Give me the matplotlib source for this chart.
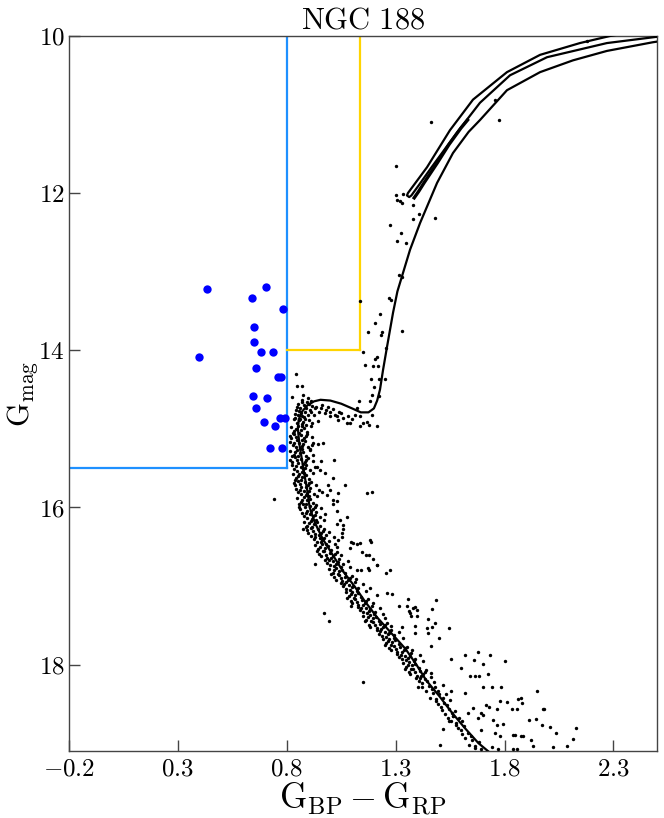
import matplotlib
matplotlib.use('Agg')
import matplotlib.pyplot as plt

plt.rcParams['mathtext.fontset'] = 'cm'
plt.rcParams['font.family'] = ['DejaVu Serif']

# ---------------- data ----------------
title = r'$\mathrm{NGC\ 188}$'
xlabel = r'$\mathrm{G_{BP}-G_{RP}}$'
ylabel = r'$\mathrm{G_{mag}}$'
xticks = [-0.2, 0.3, 0.8, 1.3, 1.8, 2.3]
xtick_labels = ['-0.2', '0.3', '0.8', '1.3', '1.8', '2.3']
yticks = [10, 12, 14, 16, 18]
ytick_labels = ['10', '12', '14', '16', '18']
xlim = (-0.2, 2.5)
ylim = (19.1, 10.0)

# selection boxes
bss_color_max = 0.8
bss_mag_max = 15.5
ybss_color_max = 1.135
ybss_mag_max = 14.0

# blue stragglers
bss_x = [0.432, 0.704, 0.639, 0.784, 0.649, 0.649, 0.682, 0.737, 0.395, 0.657, 0.761,
         0.773, 0.646, 0.709, 0.657, 0.767, 0.792, 0.697, 0.747, 0.724, 0.779]
bss_y = [13.22, 13.20, 13.34, 13.47, 13.71, 13.90, 14.02, 14.02, 14.08, 14.22, 14.34,
         14.34, 14.58, 14.61, 14.73, 14.86, 14.86, 14.91, 14.97, 15.25, 15.25]

# isochrone: MS -> turnoff -> subgiant -> RGB
iso_x = [1.745, 1.68, 1.615, 1.555, 1.50, 1.44, 1.395, 1.345, 1.28, 1.215, 1.16, 1.11,
         1.055, 1.01, 0.965, 0.93, 0.905, 0.895, 0.882, 0.87, 0.858, 0.851, 0.855, 0.87,
         0.895, 0.925, 0.955, 1.00, 1.05, 1.10, 1.14, 1.175, 1.20, 1.215, 1.228, 1.242,
         1.26, 1.288, 1.308, 1.366, 1.412, 1.49, 1.563, 1.635, 1.687, 1.811, 1.963, 2.114,
         2.27, 2.48, 2.6]
iso_y = [19.15, 19.0, 18.8, 18.6, 18.4, 18.2, 18.0, 17.8, 17.6, 17.4, 17.2, 17.0,
         16.8, 16.6, 16.4, 16.2, 16.0, 15.8, 15.6, 15.4, 15.2, 15.0, 14.88, 14.78,
         14.70, 14.65, 14.63, 14.64, 14.68, 14.74, 14.79, 14.79, 14.74, 14.64, 14.50, 14.25,
         13.96, 13.52, 13.25, 12.72, 12.38, 11.87, 11.49, 11.22, 11.07, 10.69, 10.46, 10.31,
         10.19, 10.08, 10.03]

# clump / AGB loop
agb_x = [2.45, 2.284, 2.146, 1.963, 1.811, 1.655, 1.549, 1.444, 1.356, 1.352, 1.362,
         1.372, 1.406, 1.465, 1.581, 1.687, 1.825, 1.995, 2.27, 2.50, 2.6]
agb_y = [9.92, 10.0, 10.09, 10.24, 10.46, 10.81, 11.20, 11.67, 12.00, 12.03, 12.05,
         12.03, 11.90, 11.67, 11.23, 10.85, 10.50, 10.27, 10.09, 10.01, 9.98]
eagb_x = [1.385, 1.405, 1.43, 1.49, 1.545, 1.60, 1.63]
eagb_y = [12.06, 11.98, 11.87, 11.62, 11.38, 11.17, 11.07]

# cluster members: dense turnoff and main sequence
ms_pts = [
 (0.874,14.57),(0.897,14.61),(0.912,14.64),(0.868,14.63),(0.853,14.69),(0.871,14.66),(0.889,14.73),(0.902,14.68),
 (0.917,14.71),(0.862,14.74),(0.881,14.70),(0.928,14.74),(0.846,14.72),(0.895,14.66),(0.838,14.81),(0.856,14.77),
 (0.872,14.84),(0.884,14.79),(0.899,14.83),(0.913,14.78),(0.841,14.76),(0.866,14.80),(0.927,14.82),(0.879,14.85),
 (0.906,14.76),(0.851,14.83),(0.832,14.88),(0.847,14.93),(0.861,14.87),(0.875,14.91),(0.889,14.95),(0.903,14.89),
 (0.918,14.92),(0.839,14.86),(0.868,14.94),(0.884,14.87),(0.943,14.90),(0.855,14.89),
 (.820,14.98),(.835,15.03),(.850,14.97),(.864,15.01),(.878,14.99),(.893,15.04),(.912,14.96),(.828,15.05),(.857,15.05),(.843,15.00),(.872,14.96),
 (.820,15.12),(.834,15.06),(.849,15.14),(.864,15.08),(.879,15.12),(.894,15.07),(.916,15.11),(.813,15.09),(.843,15.10),(.870,15.145),(.886,15.095),
 (.817,15.165),(.827,15.205),(.841,15.235),(.855,15.185),(.868,15.215),(.882,15.155),(.899,15.225),(.835,15.175),(.861,15.245),(.876,15.195),(.922,15.18),
 (.816,15.28),(.831,15.33),(.846,15.27),(.860,15.31),(.874,15.29),(.889,15.34),(.908,15.26),(.824,15.35),(.853,15.35),(.839,15.30),(.868,15.26),
 (.823,15.42),(.837,15.36),(.852,15.44),(.867,15.38),(.882,15.42),(.897,15.37),(.919,15.41),(.816,15.39),(.846,15.40),(.873,15.445),(.889,15.395),
 (.825,15.465),(.835,15.505),(.849,15.535),(.863,15.485),(.876,15.515),(.890,15.455),(.907,15.525),(.843,15.475),(.869,15.545),(.884,15.495),(.930,15.48),
 (.828,15.58),(.843,15.63),(.858,15.57),(.872,15.61),(.886,15.59),(.901,15.64),(.920,15.56),(.836,15.65),(.865,15.65),(.851,15.60),(.880,15.56),
 (.838,15.72),(.852,15.66),(.867,15.74),(.882,15.68),(.897,15.72),(.912,15.67),(.934,15.71),(.831,15.69),(.861,15.70),(.888,15.745),(.904,15.695),
 (.843,15.765),(.853,15.805),(.867,15.835),(.881,15.785),(.894,15.815),(.908,15.755),(.925,15.825),(.861,15.775),(.887,15.845),(.902,15.795),(.948,15.78),
 (.849,15.88),(.864,15.93),(.879,15.87),(.893,15.91),(.907,15.89),(.922,15.94),(.941,15.86),(.857,15.95),(.886,15.95),(.872,15.90),(.901,15.86),
 (.862,16.02),(.876,15.96),(.891,16.04),(.906,15.98),(.921,16.02),(.936,15.97),(.958,16.01),(.855,15.99),(.885,16.00),(.912,16.045),(.928,15.995),
 (.870,16.065),(.880,16.105),(.894,16.135),(.908,16.085),(.921,16.115),(.935,16.055),(.952,16.125),(.888,16.075),(.914,16.145),(.929,16.095),(.975,16.08),
 (.880,16.18),(.895,16.23),(.910,16.17),(.924,16.21),(.938,16.19),(.953,16.24),(.972,16.16),(.888,16.25),(.917,16.25),(.903,16.20),(.932,16.16),
 (.899,16.32),(.913,16.26),(.928,16.34),(.943,16.28),(.958,16.32),(.973,16.27),(.995,16.31),(.892,16.29),(.922,16.30),(.949,16.345),(.965,16.295),
 (.913,16.365),(.923,16.405),(.937,16.435),(.951,16.385),(.964,16.415),(.978,16.355),(.995,16.425),(.931,16.375),(.957,16.445),(.972,16.395),(1.018,16.38),
 (.930,16.48),(.945,16.53),(.960,16.47),(.974,16.51),(.988,16.49),(1.003,16.54),(1.022,16.46),(.938,16.55),(.967,16.55),(.953,16.50),(.982,16.46),
 (.955,16.62),(.969,16.56),(.984,16.64),(.999,16.58),(1.014,16.62),(1.029,16.57),(1.051,16.61),(.948,16.59),(.978,16.60),(1.005,16.645),(1.021,16.595),
 (.975,16.665),(.985,16.705),(.999,16.735),(1.013,16.685),(1.026,16.715),(1.040,16.655),(1.057,16.725),(.993,16.675),(1.019,16.745),(1.034,16.695),(1.080,16.68),
 (.996,16.78),(1.011,16.83),(1.026,16.77),(1.040,16.81),(1.054,16.79),(1.069,16.84),(1.088,16.76),(1.004,16.85),(1.033,16.85),(1.019,16.80),(1.048,16.76),
 (1.024,16.92),(1.038,16.86),(1.053,16.94),(1.068,16.88),(1.083,16.92),(1.098,16.87),(1.120,16.91),(1.017,16.89),(1.047,16.90),(1.074,16.945),(1.090,16.895),
 (1.047,16.965),(1.057,17.005),(1.071,17.035),(1.085,16.985),(1.098,17.015),(1.112,16.955),(1.129,17.025),(1.065,16.975),(1.091,17.045),(1.106,16.995),(1.152,16.98),
 (1.070,17.08),(1.085,17.13),(1.100,17.07),(1.114,17.11),(1.128,17.09),(1.143,17.14),(1.162,17.06),(1.078,17.15),(1.107,17.15),(1.093,17.10),(1.122,17.06),
 (1.100,17.22),(1.114,17.16),(1.129,17.24),(1.144,17.18),(1.159,17.22),(1.174,17.17),(1.196,17.21),(1.093,17.19),(1.123,17.20),(1.150,17.245),(1.166,17.195),
 (1.125,17.265),(1.135,17.305),(1.149,17.335),(1.163,17.285),(1.176,17.315),(1.190,17.255),(1.207,17.325),(1.143,17.275),(1.169,17.345),(1.184,17.295),(1.230,17.28),
 (1.150,17.38),(1.165,17.43),(1.180,17.37),(1.194,17.41),(1.208,17.39),(1.223,17.44),(1.242,17.36),(1.158,17.45),(1.187,17.45),(1.173,17.40),(1.202,17.36),
 (1.184,17.52),(1.198,17.46),(1.213,17.54),(1.228,17.48),(1.243,17.52),(1.258,17.47),(1.280,17.51),(1.177,17.49),(1.207,17.50),(1.234,17.545),(1.250,17.495),
 (1.212,17.565),(1.222,17.605),(1.236,17.635),(1.250,17.585),(1.263,17.615),(1.277,17.555),(1.294,17.625),(1.230,17.575),(1.256,17.645),(1.271,17.595),(1.317,17.58),
 (1.241,17.68),(1.256,17.73),(1.271,17.67),(1.285,17.71),(1.299,17.69),(1.314,17.74),(1.333,17.66),(1.249,17.75),(1.278,17.75),(1.264,17.70),(1.293,17.66),
 (1.277,17.82),(1.291,17.76),(1.306,17.84),(1.321,17.78),(1.336,17.82),(1.351,17.77),(1.373,17.81),(1.270,17.79),(1.300,17.80),(1.327,17.845),(1.343,17.795),
 (1.305,17.865),(1.315,17.905),(1.329,17.935),(1.343,17.885),(1.356,17.915),(1.370,17.855),(1.387,17.925),(1.323,17.875),(1.349,17.945),(1.364,17.895),(1.410,17.88),
 (1.333,17.98),(1.348,18.03),(1.363,17.97),(1.377,18.01),(1.391,17.99),(1.406,18.04),(1.425,17.96),(1.341,18.05),(1.370,18.05),(1.356,18.00),(1.385,17.96),
 (1.367,18.12),(1.381,18.06),(1.396,18.14),(1.411,18.08),(1.426,18.12),(1.441,18.07),(1.463,18.11),(1.360,18.09),(1.390,18.10),(1.417,18.145),(1.433,18.095),
 (1.395,18.165),(1.405,18.205),(1.419,18.235),(1.433,18.185),(1.446,18.215),(1.460,18.155),(1.477,18.225),(1.413,18.175),
 (1.423,18.28),(1.438,18.33),(1.453,18.27),(1.467,18.31),(1.481,18.29),(1.496,18.34),(1.515,18.26),
 (1.457,18.42),(1.471,18.36),(1.486,18.44),(1.501,18.38),(1.516,18.42),(1.531,18.37),
 (1.485,18.465),(1.495,18.505),(1.509,18.535),(1.523,18.485),(1.536,18.515),(1.550,18.455),
 (1.513,18.58),(1.528,18.63),(1.543,18.57),(1.557,18.61),(1.571,18.59),
 (1.547,18.72),(1.561,18.66),(1.576,18.74),(1.591,18.68),(1.606,18.72),
 (1.575,18.765),(1.585,18.805),(1.599,18.835),(1.613,18.785),
 (1.603,18.88),(1.618,18.93),(1.633,18.87),(1.647,18.91),
 (1.637,19.02),(1.651,18.96),(1.666,19.04),(1.681,18.98),
 (1.665,19.065),(1.690,19.08),
]

# cluster members: giants, subgiants, binaries and scattered stars
scatter_pts = [
 (1.462,11.09),(1.776,11.07),(1.756,10.81),(1.303,11.66),(1.300,12.03),(1.307,12.09),(1.319,12.10),(1.327,12.12),
 (1.335,12.01),(1.381,12.15),(1.408,12.27),(1.379,12.33),(1.482,12.32),(1.274,12.41),(1.326,12.51),(1.307,12.61),
 (1.349,12.64),(1.315,13.04),(1.330,13.07),(1.270,13.33),(1.279,13.36),(1.135,13.37),(1.226,13.54),(1.206,13.65),
 (1.171,13.77),(1.239,13.77),(1.231,13.81),(1.329,13.76),(1.256,13.97),(2.177,10.07),
 (1.151,14.02),(1.212,14.08),(1.206,14.11),(1.157,14.19),(1.197,14.20),(1.217,14.20),(0.842,14.30),(1.185,14.36),
 (1.225,14.36),(1.250,14.37),(1.202,14.47),(0.848,14.46),(0.870,14.46),(1.191,14.57),(1.225,14.58),(0.822,14.60),
 (1.130,14.64),(1.181,14.64),(0.935,14.72),(0.958,14.74),(0.981,14.76),(0.998,14.78),(1.021,14.82),(0.975,14.80),
 (1.060,14.86),(1.082,14.84),(1.098,14.88),(1.113,14.83),(1.075,14.92),(1.090,14.93),(1.136,14.84),(1.151,14.93),
 (1.170,14.91),(1.179,14.95),(1.136,14.96),(1.213,14.96),(1.193,14.83),(1.121,14.74),(1.029,14.84),(1.036,14.89),
 (0.96,14.70),(0.99,14.72),(1.01,14.75),(1.04,14.78),(1.05,14.80),(0.95,14.78),(1.00,14.84),
 (0.968,15.18),(0.945,15.19),(1.017,15.39),(0.957,15.41),(1.011,15.63),(1.067,15.71),(1.037,15.81),(1.014,15.90),
 (1.029,15.92),(1.014,15.95),(1.170,15.82),(1.190,15.80),(0.741,15.89),(0.876,16.28),(1.078,16.12),(1.029,16.05),
 (1.044,16.16),(1.029,16.21),(1.060,16.28),(1.052,16.38),(1.037,16.41),(1.029,16.50),(1.103,16.45),(1.124,16.47),
 (1.090,16.52),(1.182,16.42),(0.991,15.71),(0.998,15.78),(0.983,15.84),(0.960,15.80),(0.906,15.27),(0.922,15.33),
 (0.937,15.48),(0.952,15.52),(0.975,15.56),(0.914,15.20),
 (0.930,16.72),(0.972,17.34),(0.992,17.45),(1.148,18.22),(1.060,16.22),(1.052,16.32),(1.095,16.44),(1.134,16.45),
 (1.187,16.44),(1.144,16.57),(1.162,16.60),(1.195,16.65),(1.212,16.73),(1.121,16.80),(1.141,16.80),(1.179,16.80),
 (1.257,16.84),(1.274,16.79),(1.182,17.03),(1.258,17.09),(1.284,17.10),(1.358,17.17),(1.485,17.18),(1.317,17.25),
 (1.363,17.32),(1.389,17.27),(1.369,17.38),(1.399,17.38),(1.468,17.29),(1.450,17.42),(1.465,17.52),(1.442,17.54),
 (1.545,17.53),(1.391,17.60),(1.497,17.66),(1.462,17.76),(1.094,17.25),(1.179,16.60),(1.215,16.73),(1.174,16.77),
 (1.215,17.12),(1.351,17.25),(1.381,17.28),(1.366,17.34),(1.396,17.30),(1.251,17.41),(1.328,17.52),(1.389,17.51),
 (1.482,17.47),(1.450,17.60),
 (1.554,17.93),(1.620,17.88),(1.661,17.94),(1.700,17.99),(1.735,17.88),(1.803,17.96),(1.600,18.04),(1.642,18.14),
 (1.662,18.15),(1.684,18.14),(1.723,18.12),(1.679,17.84),(1.699,18.28),(1.741,18.28),(1.784,18.28),(1.619,18.36),
 (1.555,18.34),(1.948,18.34),(1.979,18.57),(1.914,18.70),(1.945,18.69),(2.036,18.87),(2.128,18.81),(2.113,18.95),
 (1.780,18.46),(1.811,18.47),(1.860,18.44),(1.875,18.43),(1.880,18.49),(1.832,18.57),(1.857,18.57),(1.748,18.70),
 (1.794,18.75),(1.840,18.90),(1.874,18.91),(1.920,18.96),(2.021,19.05),(2.085,19.04),(1.518,18.82),(1.503,19.02),
 (1.691,18.62),(1.699,18.64),(1.676,18.68),(1.653,18.55),(1.630,18.62),(1.565,18.65),(1.542,18.68),(1.553,18.72),
 (1.404,18.28),(1.714,18.51),(1.728,18.54),(1.766,18.57),(1.978,18.57),(2.009,18.80),(1.971,18.77),(1.763,18.77),
 (1.694,18.83),(1.755,18.87),(1.781,18.91),(1.847,18.89),(1.885,18.91),(1.929,19.03),(1.741,19.05),(1.771,19.08),
 (1.840,19.07),(1.855,19.07),
]

ms_x = [p[0] for p in ms_pts]
ms_y = [p[1] for p in ms_pts]
sc_x = [p[0] for p in scatter_pts]
sc_y = [p[1] for p in scatter_pts]

# ---------------- plot ----------------
fig = plt.figure(figsize=(6.64, 8.18), dpi=100)
ax = fig.add_axes([0.1039, 0.0819, 0.8856, 0.8741])

blue_box = '#1E90FF'
yellow_box = '#FFD400'

ax.plot([xlim[0], bss_color_max], [bss_mag_max, bss_mag_max], color=blue_box, lw=1.6, zorder=2)
ax.plot([bss_color_max, bss_color_max], [bss_mag_max, ylim[1]], color=blue_box, lw=1.6, zorder=2)
ax.plot([bss_color_max, ybss_color_max], [ybss_mag_max, ybss_mag_max], color=yellow_box, lw=1.6, zorder=2)
ax.plot([ybss_color_max, ybss_color_max], [ybss_mag_max, ylim[1]], color=yellow_box, lw=1.6, zorder=2)

ax.plot(iso_x, iso_y, color='black', lw=1.6, zorder=3)
ax.plot(agb_x, agb_y, color='black', lw=1.6, zorder=3)
ax.plot(eagb_x, eagb_y, color='black', lw=2.4, zorder=3)

ax.scatter(ms_x, ms_y, s=6, color='black', linewidths=0, zorder=4)
ax.scatter(sc_x, sc_y, s=6, color='black', linewidths=0, zorder=4)
ax.scatter(bss_x, bss_y, s=36, color='#0000FF', linewidths=0, zorder=5)

ax.set_xlim(*xlim)
ax.set_ylim(*ylim)
ax.set_xticks(xticks)
ax.set_xticklabels(['$' + t + '$' for t in xtick_labels])
ax.set_yticks(yticks)
ax.set_yticklabels(['$' + t + '$' for t in ytick_labels])
ax.tick_params(direction='in', length=8, width=1, colors='#444444', labelcolor='black',
               labelsize=18, top=False, right=False, pad=5)
ax.tick_params(axis='y', pad=3)
for sp in ax.spines.values():
    sp.set_color('#444444')
    sp.set_linewidth(1.0)

ax.set_xlabel(xlabel, fontsize=25, labelpad=0)
ax.set_ylabel(ylabel, fontsize=22)
ax.yaxis.set_label_coords(-0.048, 0.5)
ax.set_title(title, fontsize=22, pad=3)

fig.savefig('out.png', dpi=100)
